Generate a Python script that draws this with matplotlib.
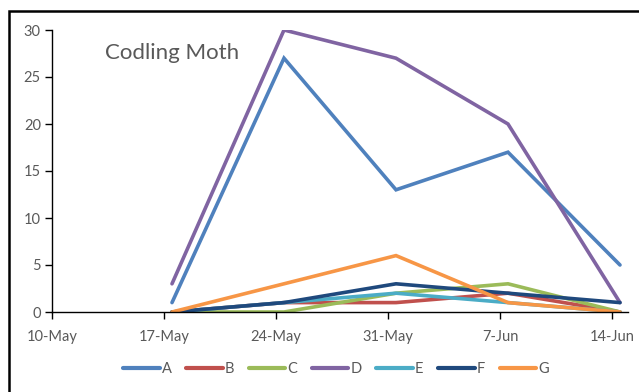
import matplotlib
matplotlib.use("Agg")
import matplotlib.pyplot as plt
from matplotlib.patches import Rectangle
import datetime as dt

dates = ["2023-05-17 12:00", "2023-05-24 12:00", "2023-05-31 12:00", "2023-06-07 12:00", "2023-06-14 12:00"]
series_names = ["A", "B", "C", "D", "E", "F", "G"]
A = [1, 27, 13, 17, 5]
B = [0, 1, 1, 2, 0]
C = [0, 0, 2, 3, 0]
D = [3, 30, 27, 20, 1]
E = [0, 1, 2, 1, 0]
F = [0, 1, 3, 2, 1]
G = [0, 3, 6, 1, 0]
colors = ["#4F81BD", "#C0504D", "#9BBB59", "#8064A2", "#4BACC6", "#1F497D", "#F79646"]
tick_dates = ["2023-05-10", "2023-05-17", "2023-05-24", "2023-05-31", "2023-06-07", "2023-06-14"]
tick_labels = ["10-May", "17-May", "24-May", "31-May", "7-Jun", "14-Jun"]

plt.rcParams['font.family'] = ['Lato', 'DejaVu Sans']
grey = "#595959"

W, H = 639, 392
fig = plt.figure(figsize=(W/100, H/100), dpi=100)
ax = fig.add_axes([52/W, 1-312/H, (628-52)/W, (312-30)/H])

x = [dt.datetime.strptime(d, "%Y-%m-%d %H:%M") for d in dates]
data = [A, B, C, D, E, F, G]
for name, ys, c in zip(series_names, data, colors):
    ax.plot(x, ys, color=c, lw=2.6, label=name, solid_capstyle='round', solid_joinstyle='miter')

xt = [dt.datetime.strptime(d, "%Y-%m-%d") for d in tick_dates]
ax.set_xticks(xt)
ax.set_xticklabels(tick_labels)
ax.set_xlim(dt.datetime(2023, 5, 10), dt.datetime(2023, 6, 15))
ax.set_ylim(0, 30)
ax.set_yticks([0, 5, 10, 15, 20, 25, 30])
for s in ["top", "right"]:
    ax.spines[s].set_visible(False)
for s in ["left", "bottom"]:
    ax.spines[s].set_color("black")
    ax.spines[s].set_linewidth(1.0)
ax.tick_params(axis='both', colors='black', labelcolor=grey, labelsize=10.5, length=5, width=1.0)
ax.tick_params(axis='x', pad=8)
ax.tick_params(axis='y', pad=3)
for lab in ax.get_xticklabels():
    lab.set_clip_on(False)

fig.text(105/W, 1-53/H, "Codling Moth", fontsize=16, color=grey, va='center', ha='left')

leg = fig.legend(loc='center', bbox_to_anchor=(336/W, 1-369/H), ncol=7, frameon=False,
                 fontsize=10.5, handlelength=2.5, handletextpad=0.15, columnspacing=1.0,
                 labelcolor=grey)
for lh in leg.get_lines():
    lh.set_linewidth(3)
    lh.set_solid_capstyle('round')

fig.add_artist(Rectangle((9/W, -0.1), 1.2, 1.1 - 11/H, transform=fig.transFigure,
                         fill=False, edgecolor='black', lw=1.8))

fig.savefig("out.png", dpi=100)
